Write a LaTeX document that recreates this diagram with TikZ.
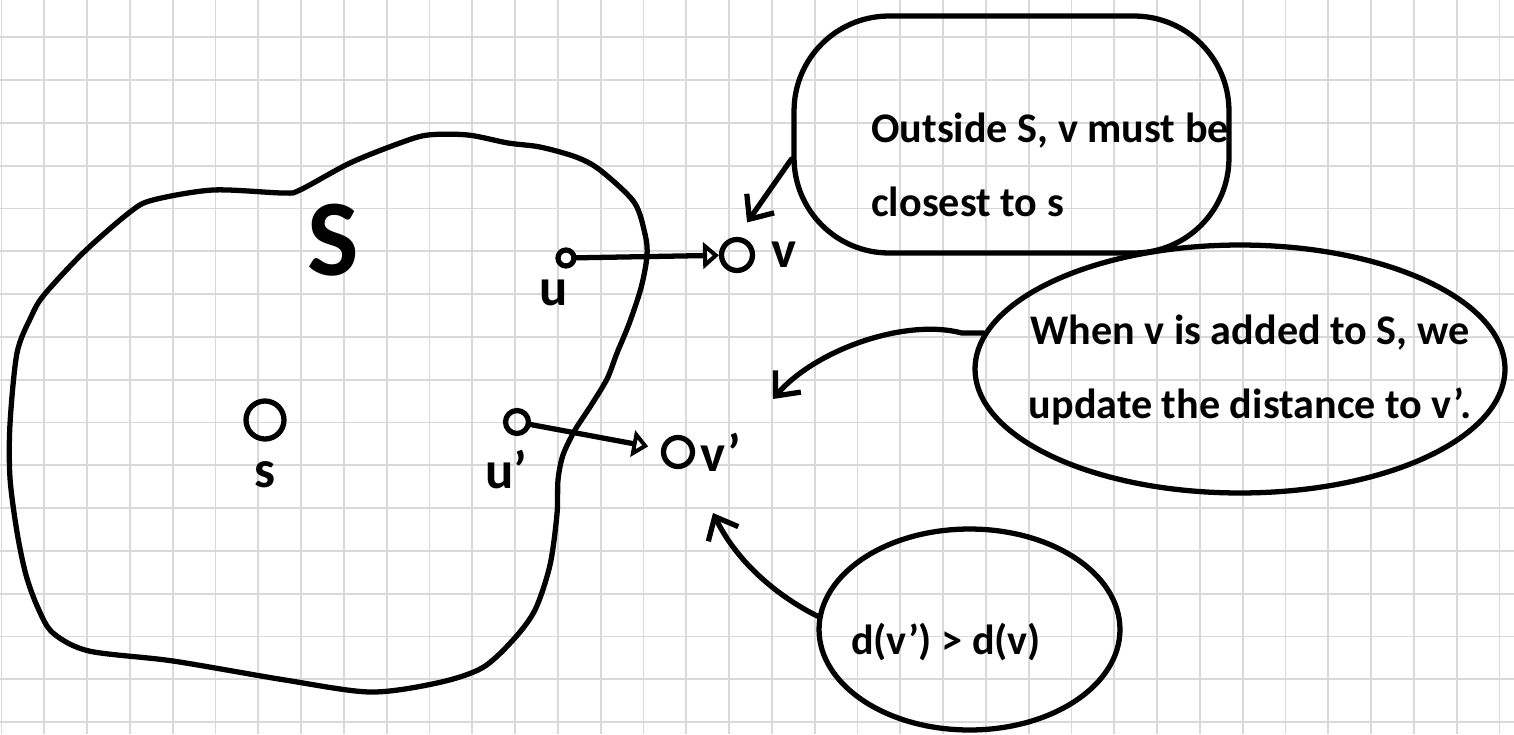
\documentclass[tikz,border=0pt]{standalone}
\usepackage{fontspec}
\setmainfont{Carlito}
\usetikzlibrary{arrows.meta,shapes.geometric,positioning}

\definecolor{gridgray}{HTML}{D9D9D9}
\newcommand{\notefont}{\fontsize{24}{42}\selectfont\bfseries}
\newcommand{\vxfont}{\fontsize{30}{30}\selectfont\bfseries}
\newcommand{\setfont}{\fontsize{62}{62}\selectfont\bfseries}

\tikzset{
  ink/.style={line width=3pt, line cap=round, line join=round},
  vx/.style={draw, circle, ink, inner sep=0pt},
  lbl/.style={inner sep=0pt, font=\vxfont},
  note/.style={inner sep=0pt, font=\notefont},
  bubble/.style={draw, ink, inner sep=0pt},
  tri/.style={ink, -{Triangle[open, length=9pt, width=15pt]}},
  pointer/.style={ink, -{Straight Barb[length=11pt, width=19pt]}},
  gridline/.style={line width=1.1pt, gridgray},
}

\begin{document}
\begin{tikzpicture}[x=0.02cm, y=-0.02cm]
      \fill[white] (0,0) rectangle (1514,734);
      \useasboundingbox (0,0) rectangle (1514,734);
      \foreach \i in {0,...,35} \draw[gridline] (1.5+42.8*\i,0) -- (1.5+42.8*\i,734);
      \foreach \j in {1,...,17} \draw[gridline] (0,-5.5+42.8*\j) -- (1514,-5.5+42.8*\j);

      \draw[ink] plot[smooth cycle, tension=0.5] coordinates {
        (400,143) (428,135) (468,135) (508,143) (540,147) (576,157) (600,170)
        (634,202) (645,234) (647,256) (641,288) (629,324) (617,353) (607,379)
        (590,407) (575,430) (563,455) (558,480) (557,514) (550,565) (535,610)
        (513,640) (482,668) (437,683) (370,692) (285,680) (173,661) (89,651)
        (53,633) (38,608) (26,575) (17,532) (10,478) (10,424) (17,353) (31,317)
        (44,295) (84,252) (130,212) (153,200) (213,190) (283,193) (300,190) (350,163)};
      \node[inner sep=0pt, font=\setfont] (S) at (333,240) {S};

      \node[vx, minimum size=0.76cm] (s) at (265,420) {};
      \node[lbl, below=11pt of s] (sl) {s};
      \node[vx, minimum size=0.32cm] (u) at (566,258) {};
      \node[lbl, below=6pt of u, xshift=-7pt] (ul) {u};
      \node[vx, minimum size=0.62cm] (v) at (737,255) {};
      \node[lbl, right=9pt of v] (vl) {v};
      \node[vx, minimum size=0.46cm] (up) at (517,422) {};
      \node[lbl, below=8pt of up, xshift=-6pt] (upl) {u'};
      \node[vx, minimum size=0.58cm] (vp) at (678,452) {};
      \node[lbl, right=3pt of vp] (vpl) {v'};
      \draw[tri] (u) -- (v);
      \draw[tri, shorten >=7.5pt] (up) -- (vp);

      \node[bubble, rounded corners=1.9cm, minimum width=8.7cm, minimum height=4.74cm] (c1) at (1011.5,134.5) {};
      \node[note, align=left, anchor=west] (t1) at (871,165) {Outside S, v must be\\closest to s};
      \node[bubble, ellipse, minimum width=10.6cm, minimum height=4.96cm] (c2) at (1240,369) {};
      \node[note, align=center] (t2) at (1250,370) {When v is added to S, we\\update the distance to v'.};
      \node[bubble, ellipse, minimum width=6.02cm, minimum height=4.02cm] (c3) at (969.5,629.5) {};
      \node[note] (t3) at (946,642) {d(v') > d(v)};

      \coordinate (a2) at (773,399);
      \coordinate (a3) at (713,513);
      \draw[pointer, shorten >=10pt] ([yshift=-14pt]c1.west) -- (v.north);
      \draw[pointer] (c2.172) -- ++(-22,0) .. controls (905,318) and (815,350) .. (a2);
      \draw[pointer] (c3.175) .. controls (785,600) and (740,568) .. (a3);
\end{tikzpicture}
\end{document}
